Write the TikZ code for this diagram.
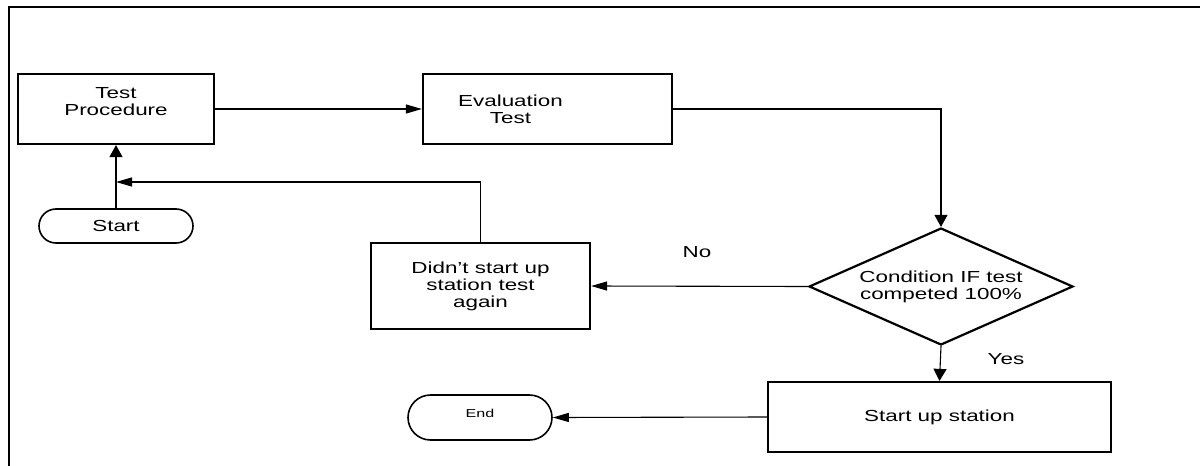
\documentclass[tikz,border=0pt]{standalone}
\usepackage{fontspec}
\setmainfont{Liberation Sans}[FakeStretch=1.4]
\usetikzlibrary{arrows.meta,shapes.geometric,shapes.misc}
\begin{document}
\begin{tikzpicture}[x=1pt,y=-1pt,
  font=\fontsize{16}{17}\selectfont,
  box/.style={draw,line width=2.2pt,rectangle,inner sep=0pt,align=center},
  term/.style={draw,line width=1.6pt,rounded rectangle,inner sep=0pt,align=center},
  dia/.style={draw,line width=2.2pt,diamond,aspect=2.26,inner sep=0pt,align=center},
  conn/.style={line width=1.1pt},
  harr/.style={conn,-{Triangle[length=16pt,width=9pt]}},
  varr/.style={conn,-{Triangle[length=12pt,width=13pt]}},
  frame/.style={line width=2.4pt},
  lbl/.style={inner sep=0pt,align=center}
]
\useasboundingbox (0,0) rectangle (1200,466);
% frame
\draw[frame] (8,7) -- (1200,7);
\draw[frame] (9,6) -- (9,466);

% nodes
\node[box,minimum width=196pt,minimum height=70pt,
  label={[lbl,yshift=7.5pt]center:{Test\\Procedure}}] (tp) at (116,109) {};
\node[box,minimum width=249pt,minimum height=70pt,
  label={[lbl,xshift=-37pt]center:{Evaluation\\Test}}] (ev) at (547.5,109) {};
\node[dia,minimum width=264pt,minimum height=117pt] (dec) at (941,286.5) {Condition IF test\\competed 100\%};
\node[box,minimum width=219pt,minimum height=86pt] (dn) at (480.5,286) {Didn{\char"0027}t start up\\station test\\again};
\node[term,minimum width=154pt,minimum height=34pt] (st) at (116,226) {Start};
\node[box,minimum width=343pt,minimum height=70pt] (su) at (939.5,417) {Start up station};
\node[term,minimum width=144pt,minimum height=45pt,font=\fontsize{11.5}{13}\selectfont,text depth=8pt] (en) at (480,417.5) {End};

\node[lbl] (no) at (697,252) {No};
\node[lbl] (yes) at (1006,359) {Yes};

\coordinate (j) at (116,182);

% connectors
\draw[harr] (tp.east) -- (ev.west);
\draw[varr] (ev.east) -| (dec.north);
\draw[harr] (dec.west) -- (dn.east);
\draw[harr] (dn.north) |- (j);
\draw[varr] (st.north) -- (tp.south);
\draw[varr] (dec.south) -- (su.north);
\draw[harr] (su.west) -- (en.east);
\end{tikzpicture}
\end{document}
